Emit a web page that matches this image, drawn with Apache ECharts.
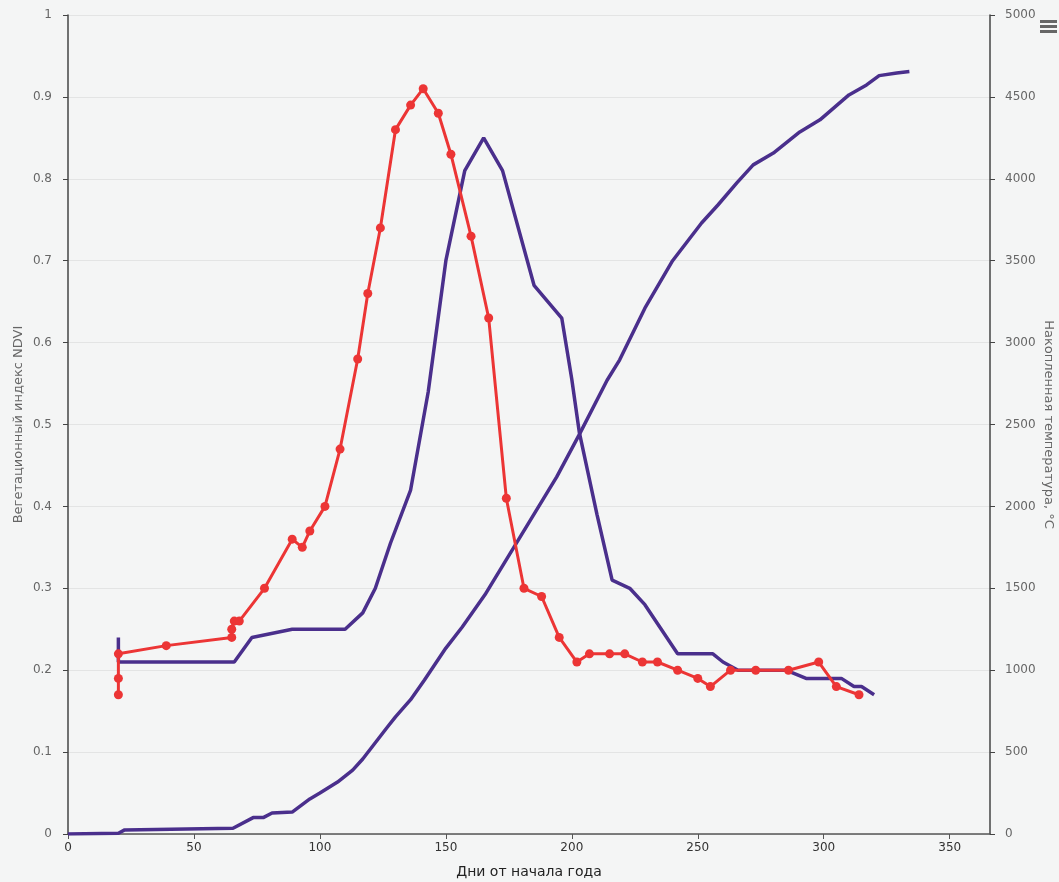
<!DOCTYPE html>
<html>
<head>
<meta charset="utf-8">
<script src="https://cdn.jsdelivr.net/npm/echarts@6/dist/echarts.min.js"></script>
<style>
html,body{margin:0;padding:0;background:#f4f5f5;}
#chart{width:1059px;height:882px;}
</style>
</head>
<body>
<div id="chart"></div>
<script>
// NDVI observations (red)
const ndviDays = [20,20,20,39,65,65,66,68,78,89,93,96,102,108,115,119,124,130,136,141,147,152,160,167,174,181,188,195,202,207,215,221,228,234,242,250,255,263,273,286,298,305,314];
const ndviValues = [0.17,0.19,0.22,0.23,0.24,0.25,0.26,0.26,0.30,0.36,0.35,0.37,0.40,0.47,0.58,0.66,0.74,0.86,0.89,0.91,0.88,0.83,0.73,0.63,0.41,0.30,0.29,0.24,0.21,0.22,0.22,0.22,0.21,0.21,0.20,0.19,0.18,0.20,0.20,0.20,0.21,0.18,0.17];

// NDVI model curve (purple, left axis)
const modelDays = [20,20,66,73,89,110,117,122,128,136,143,150,157.5,165,172.5,185,196,200,203,210,216,223,229,242,256,260,266,285,293,307,312,315,320];
const modelValues = [0.24,0.21,0.21,0.24,0.25,0.25,0.27,0.30,0.355,0.42,0.54,0.70,0.81,0.85,0.81,0.67,0.63,0.555,0.49,0.39,0.31,0.30,0.28,0.22,0.22,0.21,0.20,0.20,0.19,0.19,0.18,0.18,0.17];

// Accumulated temperature (purple, right axis)
const tempDays = [0,20,22.5,65.5,73.5,77.5,81,89,96,100,107,113,117,126.5,130,136,141.5,150,156.5,165.5,178,194,203,214,219,229,240,251.5,258,265.5,272,280,290.5,298.5,310,317,322,329,334];
const tempValues = [0,5,25,35,100,100,128,134,214,250,317,390,458,647,715,820,940,1135,1264,1460,1776,2180,2440,2770,2895,3210,3500,3730,3840,3975,4085,4157,4286,4360,4512,4573,4630,4646,4655];

const xAxisName = 'Дни от начала года';
const leftAxisName = 'Вегетационный индекс NDVI';
const rightAxisName = 'Накопленная температура, °C';

const zip = (a, b) => a.map((v, i) => [v, b[i]]);

const chart = echarts.init(document.getElementById('chart'), null, {renderer: 'canvas'});
const FONT = 'DejaVu Sans';
chart.setOption({
  backgroundColor: '#f4f5f5',
  animation: false,
  grid: {left: 68, right: 69, top: 15, bottom: 48, containLabel: false, outerBoundsMode: 'none'},
  xAxis: {
    type: 'value', min: 0, max: 366, interval: 50,
    name: xAxisName, nameLocation: 'middle', nameGap: 31, nameMoveOverlap: false,
    nameTextStyle: {color: '#222', fontSize: 14, fontFamily: FONT},
    axisLine: {show: true, lineStyle: {color: '#555', width: 1.5}},
    axisTick: {show: true, length: 5, lineStyle: {color: '#555'}},
    axisLabel: {color: '#333', fontSize: 12, fontFamily: FONT, margin: 8, showMaxLabel: false},
    splitLine: {show: false}
  },
  yAxis: [{
    type: 'value', min: 0, max: 1, interval: 0.1, position: 'left',
    name: leftAxisName, nameLocation: 'middle', nameGap: 43, nameMoveOverlap: false,
    nameTextStyle: {color: '#666', fontSize: 13, fontFamily: FONT},
    axisLine: {show: true, lineStyle: {color: '#444', width: 1.5}},
    axisTick: {show: true, length: 5, lineStyle: {color: '#444'}},
    axisLabel: {color: '#666', fontSize: 12, fontFamily: FONT, margin: 16},
    splitLine: {show: true, lineStyle: {color: '#e3e4e4', width: 1}}
  }, {
    type: 'value', min: 0, max: 5000, interval: 500, position: 'right',
    name: rightAxisName, nameLocation: 'middle', nameGap: 52, nameRotate: -90, nameMoveOverlap: false,
    nameTextStyle: {color: '#666', fontSize: 13, fontFamily: FONT},
    axisLine: {show: true, lineStyle: {color: '#444', width: 1.5}},
    axisTick: {show: true, length: 5, lineStyle: {color: '#444'}},
    axisLabel: {color: '#666', fontSize: 12, fontFamily: FONT, margin: 15, formatter: v => String(v)},
    splitLine: {show: false}
  }],
  series: [{
    type: 'line', yAxisIndex: 1, data: zip(tempDays, tempValues),
    showSymbol: false, symbol: 'none',
    lineStyle: {color: '#4a2f8c', width: 3.5}, z: 2
  }, {
    type: 'line', yAxisIndex: 0, data: zip(modelDays, modelValues),
    showSymbol: false, symbol: 'none',
    lineStyle: {color: '#4a2f8c', width: 3.5}, z: 3
  }, {
    type: 'line', yAxisIndex: 0, data: zip(ndviDays, ndviValues),
    symbol: 'circle', symbolSize: 9, showAllSymbol: true,
    itemStyle: {color: '#ec3535'},
    lineStyle: {color: '#ec3535', width: 3}, z: 4
  }],
  graphic: [
    {type: 'rect', left: 1040, top: 20, shape: {width: 17, height: 3}, style: {fill: '#666'}},
    {type: 'rect', left: 1040, top: 25, shape: {width: 17, height: 3}, style: {fill: '#666'}},
    {type: 'rect', left: 1040, top: 30, shape: {width: 17, height: 3}, style: {fill: '#666'}}
  ]
});
</script>
</body>
</html>
